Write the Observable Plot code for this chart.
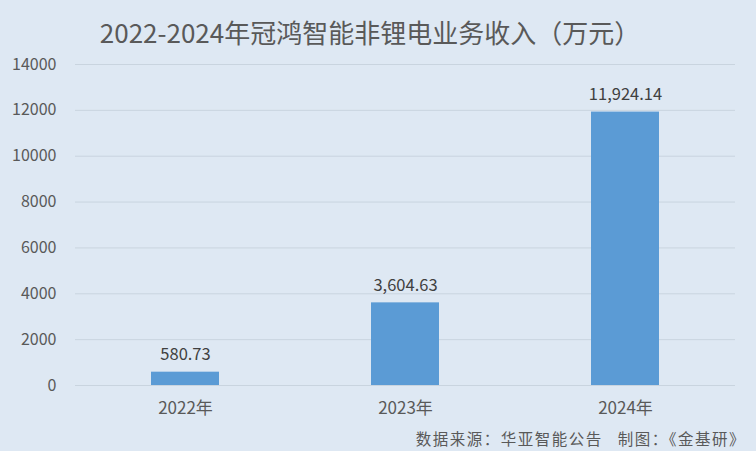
<!DOCTYPE html>
<html><head><meta charset="utf-8">
<script src="https://cdn.jsdelivr.net/npm/d3@7"></script>
<script src="https://cdn.jsdelivr.net/npm/@observablehq/plot@0.6"></script>
<style>
html,body{margin:0;padding:0;background:#dee8f3;}
#wrap{width:756px;height:451px;background:#dee8f3;font-family:"Noto Sans CJK SC","Noto Sans",sans-serif;color:#595959;overflow:hidden;position:relative;}
#title{position:absolute;left:0;top:14px;width:740px;text-align:center;font-size:26px;line-height:36px;color:#595959;}
#chart{position:absolute;left:0;top:50px;}
#cap{position:absolute;right:10px;top:427px;font-size:15.5px;line-height:22px;color:#595959;letter-spacing:1.5px;}
</style></head>
<body><div id="wrap"><div id="title">2022-2024年冠鸿智能非锂电业务收入（万元）</div><div id="chart"></div><div id="cap">数据来源：华亚智能公告&nbsp;&nbsp;&nbsp;制图：《金基研》</div></div>
<script>
const years = ["2022年","2023年","2024年"];
const revenue = [580.73, 3604.63, 11924.14];
const labels = ["580.73","3,604.63","11,924.14"];
const yTicks = [0,2000,4000,6000,8000,10000,12000,14000];
const data = years.map((y,i)=>({year:y, value:revenue[i], label:labels[i]}));
const chart = Plot.plot({
  width:756, height:375,
  marginTop:14, marginBottom:40, marginLeft:75, marginRight:21,
  style:{background:"transparent", fontFamily:"'Noto Sans CJK SC','Noto Sans',sans-serif", fontSize:"16px", color:"#595959"},
  x:{domain:years, paddingInner:0.69, paddingOuter:0.345, label:null, tickSize:0, tickPadding:16, tickFormat:d=>d},
  y:{domain:[0,14000], ticks:yTicks, label:null, tickSize:0, tickPadding:19, tickFormat:d=>String(d)},
  marks:[
    Plot.gridY(yTicks,{stroke:"#c9d4df", strokeOpacity:1, strokeWidth:1}),
    Plot.barY(data,{x:"year", y:"value", fill:"#5b9bd5"}),
    Plot.text(data,{x:"year", y:"value", text:"label", dy:-12, lineAnchor:"bottom", fill:"#404040", fontSize:16.5})
  ]
});
chart.querySelectorAll("[aria-label='x-axis tick label'] text").forEach(t=>t.setAttribute("font-size","17"));
document.getElementById("chart").appendChild(chart);
</script></body></html>
